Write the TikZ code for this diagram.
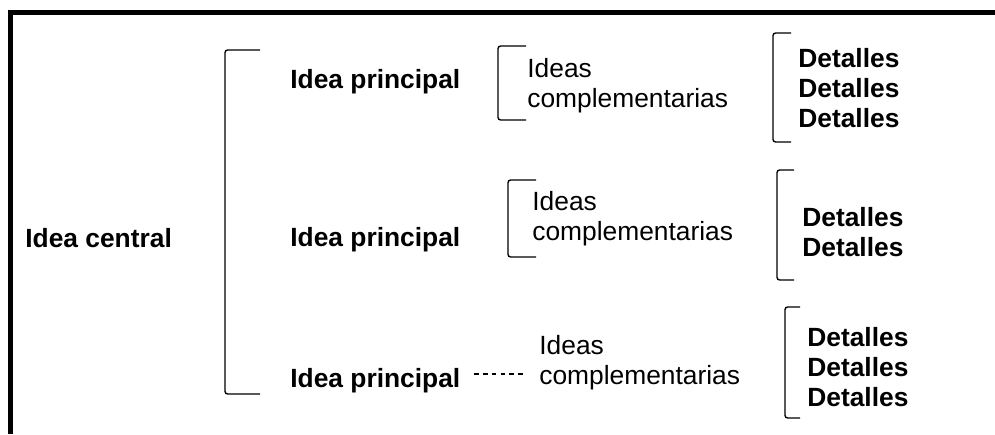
\documentclass[tikz,border=0pt]{standalone}
\usepackage{fontspec}
\setmainfont{Liberation Sans}
\usepackage{tikz}
\usetikzlibrary{positioning,calc}

\begin{document}
\begin{tikzpicture}
    \tikzset{
        bold/.style={font=\bfseries\fontsize{15}{17}\selectfont, inner sep=0pt, anchor=west, align=left},
        plain/.style={font=\fontsize{15}{17}\selectfont, inner sep=0pt, anchor=west, align=left},
        bracketline/.style={line width=0.8pt, rounded corners=1.5pt},
        frameline/.style={line width=2.6pt, line join=miter},
        dashline/.style={dash pattern=on 2.8pt off 2.3pt, line width=0.6pt}
    }
    \useasboundingbox (0,0) rectangle (19.9,8.68);

    % frame
    \draw[frameline] (0.21,0) -- (0.21,8.43) -- (19.9,8.43);

    \node[bold] (central) at (0.50,3.92) {Idea central};

    \node[bold] (princ1) at (5.80,7.04) {Idea principal};
    \node[bold] (princ2) at (5.80,3.88) {Idea principal};
    \node[bold] (princ3) at (5.80,1.06) {Idea principal};

    \node[plain] (comp1) at (10.54,6.96) {Ideas\\complementarias};
    \node[plain] (comp2) at (10.64,4.30) {Ideas\\complementarias};
    \node[plain] (comp3) at (10.78,1.43) {Ideas\\complementarias};

    \node[bold] (det1) at (15.96,6.92) {Detalles\\Detalles\\Detalles};
    \node[bold] (det2) at (16.04,4.04) {Detalles\\Detalles};
    \node[bold] (det3) at (16.14,1.34) {Detalles\\Detalles\\Detalles};

    % brackets
    \draw[bracketline] (5.20,7.68) -- (4.50,7.68) -- (4.50,0.80) -- (5.20,0.80);
    \draw[bracketline] (10.52,7.76) -- (9.96,7.76) -- (9.96,6.28) -- (10.52,6.28);
    \draw[bracketline] (10.72,5.08) -- (10.16,5.08) -- (10.16,3.54) -- (10.72,3.54);
    \draw[bracketline] (15.82,8.02) -- (15.46,8.02) -- (15.46,5.84) -- (15.82,5.84);
    \draw[bracketline] (15.88,5.28) -- (15.54,5.28) -- (15.54,3.08) -- (15.88,3.08);
    \draw[bracketline] (16.00,2.54) -- (15.70,2.54) -- (15.70,0.32) -- (16.00,0.32);

    \draw[dashline, shorten <=0.26cm, shorten >=0.28cm]
        ([yshift=4pt]princ3.east) -- ([yshift=4pt]princ3.east -| comp3.west);
\end{tikzpicture}
\end{document}
